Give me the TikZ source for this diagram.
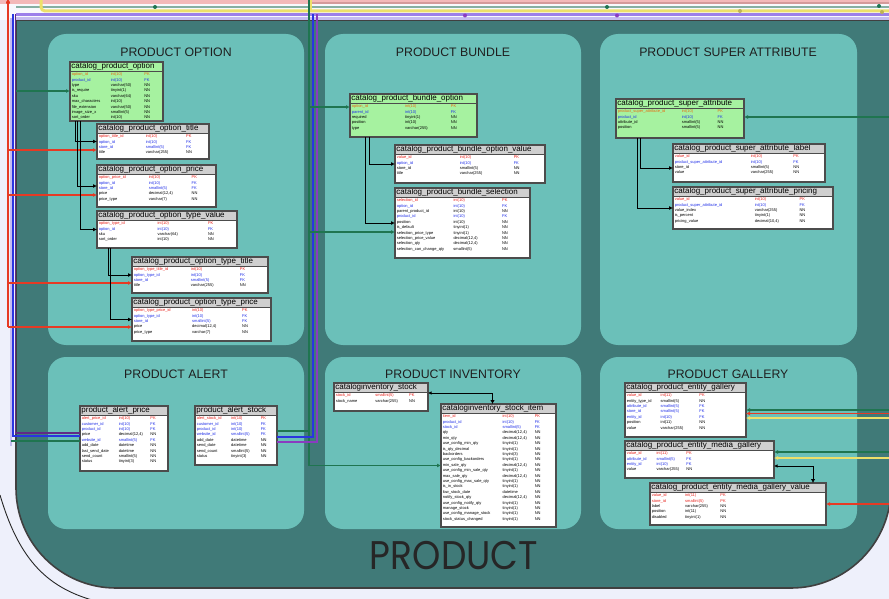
\documentclass[tikz,border=0pt]{standalone}
\usepackage{fontspec}
\setmainfont{Liberation Sans}
\newfontfamily\logofont{Poppins}
\usepackage{graphicx}
\usetikzlibrary{arrows.meta}

\definecolor{pagebg}{HTML}{EEF0FB}
\definecolor{outerteal}{HTML}{407A78}
\definecolor{innerteal}{HTML}{6BC0B9}
\definecolor{tblgreen}{HTML}{A6F2A0}
\definecolor{hdrgray}{HTML}{CFCFCF}
\definecolor{pkred}{HTML}{E8201A}
\definecolor{pkorange}{HTML}{E86A10}
\definecolor{fkblue}{HTML}{1F2EE8}
\definecolor{lnred}{HTML}{E63A24}
\definecolor{lngreen}{HTML}{1F7550}
\definecolor{lnblue}{HTML}{2A35E0}
\definecolor{lnpurple}{HTML}{8A3CC0}
\definecolor{lnyellow}{HTML}{EDE06A}
\definecolor{lnpink}{HTML}{F3B9B9}
\definecolor{lnrose}{HTML}{D49A9A}
\definecolor{lnsage}{HTML}{86AFA2}
\definecolor{lnviolet}{HTML}{9C80EA}
\definecolor{lnlav}{HTML}{C5BDF0}

\tikzset{
  tblbox/.style={anchor=north west, inner sep=0pt, outer sep=0pt},
  tblborder/.style={draw=black!70, line width=1.1pt},
  tbltitle/.style={anchor=west, inner sep=0pt, font=\fontsize{8}{9}\selectfont},
  tblrows/.style={anchor=north west, inner sep=0pt, font=\fontsize{4}{5.4}\selectfont},
  group/.style={fill=innerteal, rounded corners=18pt},
  grouptitle/.style={font=\fontsize{12.3}{13}\selectfont, text=black!88},
  bus/.style={line width=1.4pt},
  rel/.style={draw=black, line width=0.9pt, -{Latex[length=4pt,width=4pt]}},
  rel2/.style={draw=black, line width=0.9pt, {Latex[length=3.5pt,width=3.5pt]}-{Latex[length=4pt,width=4.5pt]}},
  redrel/.style={draw=lnred, line width=1.1pt, -{Latex[length=4pt,width=4pt]}},
  grnrel/.style={draw=lngreen, line width=1.1pt, -{Latex[length=4pt,width=4pt]}},
  yelrel/.style={draw=lnyellow, line width=1.6pt, -{Latex[length=4pt,width=4pt]}},
  marker/.style={circle, inner sep=0pt, minimum size=4pt},
}

% one row of a table: key, foreign key, plain column
\newcommand\rowk[3]{\textcolor{pkred}{#1}&\textcolor{pkred}{#2}&\textcolor{pkred}{#3}\\}
\newcommand\rowo[3]{\textcolor{pkorange}{#1}&\textcolor{pkorange}{#2}&\textcolor{pkorange}{#3}\\}
\newcommand\rowf[3]{\textcolor{fkblue}{#1}&\textcolor{fkblue}{#2}&\textcolor{fkblue}{#3}\\}
\newcommand\rown[3]{#1&#2&#3\\}

% column split of the next tables, in percent of the table width
\newcommand\setcols[3]{\def\cola{#1}\def\colb{#2}\def\colc{#3}}
\setcols{42}{36}{20}

% name, x, y, width, height, body fill, header fill, title, rows
\newcommand\dbtable[9]{%
  \node[tblbox, fill=#6, minimum width=#4pt, minimum height=#5pt] (#1) at (#2,#3) {};
  \begin{scope}
    \clip (#1.north west) rectangle (#1.south east);
    \fill[#7] (#1.north west) rectangle ([yshift=-9pt]#1.north east);
    \node[tbltitle] at ([shift={(1.2pt,-4.7pt)}]#1.north west) {#8};
    \node[tblrows] at ([shift={(1.6pt,-9.8pt)}]#1.north west) {%
      \begin{tabular}{@{}p{\dimexpr#4pt*\cola/100\relax}@{}p{\dimexpr#4pt*\colb/100\relax}@{}p{\dimexpr#4pt*\colc/100\relax}@{}}#9\end{tabular}};
  \end{scope}
  \draw[black!70, line width=0.6pt] ([yshift=-9pt]#1.north west) -- ([yshift=-9pt]#1.north east);
  \draw[tblborder] (#1.north west) rectangle (#1.south east);
}

\begin{document}
\begin{tikzpicture}[x=1pt,y=-1pt]
\useasboundingbox (0,0) rectangle (889,599);
\fill[pagebg] (0,0) rectangle (889,599);

% outer frame line
\draw[black!85, line width=0.9pt] (0,495) .. controls (18,556) and (44,586) .. (92,600);

% PRODUCT container
\path[fill=outerteal, draw=black!75, line width=1.6pt]
  (16,20) -- (891,20) -- (891,300)
  {[rounded corners=100pt] -- (891,588) -- (16,588) -- (16,300)} -- cycle;

% bus lines along the top
\fill[white!60!pagebg] (0,0) rectangle (889,20);
\fill[lnpink] (0,0) rectangle (889,3.6);
\draw[lnrose, line width=1.6pt] (310,3) -- (889,3);
\draw[lnsage, line width=2.2pt] (16,7) -- (889,7);
\draw[lnyellow, line width=3pt, rounded corners=4pt] (41,0) -- (41,11) -- (889,11);
\draw[lnviolet, line width=3pt] (16,14.8) -- (889,14.8);
\draw[lnlav, line width=2.4pt] (16,18.4) -- (889,18.4);

% groups
\fill[group] (48,34) rectangle (304,345);
\fill[group] (325,34) rectangle (581,345);
\fill[group] (600,34) rectangle (857,345);
\fill[group] (48,357) rectangle (304,529);
\fill[group] (325,357) rectangle (581,529);
\fill[group] (600,357) rectangle (857,529);

\node[grouptitle] (tOption) at (176,52) {PRODUCT OPTION};
\node[grouptitle] (tBundle) at (453,52) {PRODUCT BUNDLE};
\node[grouptitle] (tSuper) at (728,52) {PRODUCT SUPER ATTRIBUTE};
\node[grouptitle] (tAlert) at (176,374) {PRODUCT ALERT};
\node[grouptitle] (tInventory) at (453,374) {PRODUCT INVENTORY};
\node[grouptitle] (tGallery) at (728,374) {PRODUCT GALLERY};

% ---------- product option ----------
\dbtable{opt}{70}{62}{93}{59}{tblgreen}{tblgreen}{catalog\_product\_option}{%
\rowo{option\_id}{int(10)}{PK}
\rowf{product\_id}{int(10)}{FK}
\rown{type}{varchar(50)}{NN}
\rown{is\_require}{tinyint(1)}{NN}
\rown{sku}{varchar(64)}{NN}
\rown{max\_characters}{int(10)}{NN}
\rown{file\_extension}{varchar(50)}{NN}
\rown{image\_size\_x}{smallint(5)}{NN}
\rown{sort\_order}{int(10)}{NN}}

\dbtable{optTitle}{97}{124}{112}{35}{white}{hdrgray}{catalog\_product\_option\_title}{%
\rowk{option\_title\_id}{int(10)}{PK}
\rowf{option\_id}{int(10)}{FK}
\rowf{store\_id}{smallint(5)}{FK}
\rown{title}{varchar(255)}{NN}}

\dbtable{optPrice}{97}{165}{119}{42}{white}{hdrgray}{catalog\_product\_option\_price}{%
\rowk{option\_price\_id}{int(10)}{PK}
\rowf{option\_id}{int(10)}{FK}
\rowf{store\_id}{smallint(5)}{FK}
\rown{price}{decimal(12,4)}{NN}
\rown{price\_type}{varchar(7)}{NN}}

\dbtable{optTypeValue}{97}{211}{140}{37}{white}{hdrgray}{catalog\_product\_option\_type\_value}{%
\rowk{option\_type\_id}{int(10)}{PK}
\rowf{option\_id}{int(10)}{FK}
\rown{sku}{varchar(64)}{NN}
\rown{sort\_order}{int(10)}{NN}}

\dbtable{optTypeTitle}{132}{257}{136}{36}{white}{hdrgray}{catalog\_product\_option\_type\_title}{%
\rowk{option\_type\_title\_id}{int(10)}{PK}
\rowf{option\_type\_id}{int(10)}{FK}
\rowf{store\_id}{smallint(5)}{FK}
\rown{title}{varchar(255)}{NN}}

\dbtable{optTypePrice}{132}{298}{139}{43}{white}{hdrgray}{catalog\_product\_option\_type\_price}{%
\rowk{option\_type\_price\_id}{int(10)}{PK}
\rowf{option\_type\_id}{int(10)}{FK}
\rowf{store\_id}{smallint(5)}{FK}
\rown{price}{decimal(12,4)}{NN}
\rown{price\_type}{varchar(7)}{NN}}

% ---------- product bundle ----------
\dbtable{bndOpt}{350}{94}{127}{43}{tblgreen}{tblgreen}{catalog\_product\_bundle\_option}{%
\rowo{option\_id}{int(10)}{PK}
\rowf{parent\_id}{int(10)}{FK}
\rown{required}{tinyint(1)}{NN}
\rown{position}{int(10)}{NN}
\rown{type}{varchar(255)}{NN}}

\dbtable{bndValue}{395}{145}{150}{38}{white}{hdrgray}{catalog\_product\_bundle\_option\_value}{%
\rowk{value\_id}{int(10)}{PK}
\rowf{option\_id}{int(10)}{FK}
\rown{store\_id}{smallint(5)}{NN}
\rown{title}{varchar(255)}{NN}}

\dbtable{bndSel}{395}{188}{135}{70}{white}{hdrgray}{catalog\_product\_bundle\_selection}{%
\rowk{selection\_id}{int(10)}{PK}
\rowf{option\_id}{int(10)}{FK}
\rown{parent\_product\_id}{int(10)}{NN}
\rowf{product\_id}{int(10)}{FK}
\rown{position}{int(10)}{NN}
\rown{is\_default}{tinyint(1)}{NN}
\rown{selection\_price\_type}{tinyint(1)}{NN}
\rown{selection\_price\_value}{decimal(12,4)}{NN}
\rown{selection\_qty}{decimal(12,4)}{NN}
\rown{selection\_can\_change\_qty}{smallint(5)}{NN}}

% ---------- product super attribute ----------
\setcols{50}{28}{20}
\dbtable{supAttr}{616}{99}{128}{39}{tblgreen}{tblgreen}{catalog\_product\_super\_attribute}{%
\rowo{product\_super\_attribute\_id}{int(10)}{PK}
\rowf{product\_id}{int(10)}{FK}
\rown{attribute\_id}{smallint(5)}{NN}
\rown{position}{smallint(5)}{NN}}

\dbtable{supLabel}{673}{144}{152}{38}{white}{hdrgray}{catalog\_product\_super\_attribute\_label}{%
\rowk{value\_id}{int(10)}{PK}
\rowf{product\_super\_attribute\_id}{int(10)}{FK}
\rown{store\_id}{smallint(5)}{NN}
\rown{value}{varchar(255)}{NN}}

\dbtable{supPricing}{673}{187}{160}{42}{white}{hdrgray}{catalog\_product\_super\_attribute\_pricing}{%
\rowk{value\_id}{int(10)}{PK}
\rowf{product\_super\_attribute\_id}{int(10)}{FK}
\rown{value\_index}{varchar(255)}{NN}
\rown{is\_percent}{tinyint(1)}{NN}
\rown{pricing\_value}{decimal(10,4)}{NN}}

% ---------- product alert ----------
\setcols{42}{36}{20}
\dbtable{alertPrice}{80}{406}{88}{65}{white}{hdrgray}{product\_alert\_price}{%
\rowk{alert\_price\_id}{int(10)}{PK}
\rowf{customer\_id}{int(10)}{FK}
\rowf{product\_id}{int(10)}{FK}
\rown{price}{decimal(12,4)}{NN}
\rowf{website\_id}{smallint(5)}{FK}
\rown{add\_date}{datetime}{NN}
\rown{last\_send\_date}{datetime}{NN}
\rown{send\_count}{smallint(5)}{NN}
\rown{status}{tinyint(3)}{NN}}

\dbtable{alertStock}{195}{406}{82}{59}{white}{hdrgray}{product\_alert\_stock}{%
\rowk{alert\_stock\_id}{int(10)}{PK}
\rowf{customer\_id}{int(10)}{FK}
\rowf{product\_id}{int(10)}{FK}
\rowf{website\_id}{smallint(5)}{FK}
\rown{add\_date}{datetime}{NN}
\rown{send\_date}{datetime}{NN}
\rown{send\_count}{smallint(5)}{NN}
\rown{status}{tinyint(3)}{NN}}

% ---------- product inventory ----------
\dbtable{stock}{334}{383}{94}{28}{white}{hdrgray}{cataloginventory\_stock}{%
\rowk{stock\_id}{smallint(5)}{PK}
\rown{stock\_name}{varchar(255)}{NN}}

\setcols{52}{28}{18}
\dbtable{stockItem}{441}{404}{115}{123}{white}{hdrgray}{cataloginventory\_stock\_item}{%
\rowk{item\_id}{int(10)}{PK}
\rowf{product\_id}{int(10)}{FK}
\rowf{stock\_id}{smallint(5)}{FK}
\rown{qty}{decimal(12,4)}{NN}
\rown{min\_qty}{decimal(12,4)}{NN}
\rown{use\_config\_min\_qty}{tinyint(1)}{NN}
\rown{is\_qty\_decimal}{tinyint(1)}{NN}
\rown{backorders}{tinyint(3)}{NN}
\rown{use\_config\_backorders}{tinyint(1)}{NN}
\rown{min\_sale\_qty}{decimal(12,4)}{NN}
\rown{use\_config\_min\_sale\_qty}{tinyint(1)}{NN}
\rown{max\_sale\_qty}{decimal(12,4)}{NN}
\rown{use\_config\_max\_sale\_qty}{tinyint(1)}{NN}
\rown{is\_in\_stock}{tinyint(1)}{NN}
\rown{low\_stock\_date}{datetime}{NN}
\rown{notify\_stock\_qty}{decimal(12,4)}{NN}
\rown{use\_config\_notify\_qty}{tinyint(1)}{NN}
\rown{manage\_stock}{tinyint(1)}{NN}
\rown{use\_config\_manage\_stock}{tinyint(1)}{NN}
\rown{stock\_status\_changed}{tinyint(1)}{NN}}

% ---------- product gallery ----------
\setcols{28}{32}{20}
\dbtable{gal}{625}{383}{121}{54}{white}{hdrgray}{catalog\_product\_entity\_gallery}{%
\rowk{value\_id}{int(11)}{PK}
\rown{entity\_type\_id}{smallint(5)}{NN}
\rowf{attribute\_id}{smallint(5)}{FK}
\rowf{store\_id}{smallint(5)}{FK}
\rowf{entity\_id}{int(10)}{FK}
\rown{position}{int(11)}{NN}
\rown{value}{varchar(255)}{NN}}

\setcols{20}{20}{20}
\dbtable{mediaGal}{625}{441}{149}{37}{white}{hdrgray}{catalog\_product\_entity\_media\_gallery}{%
\rowk{value\_id}{int(11)}{PK}
\rowf{attribute\_id}{smallint(5)}{FK}
\rowf{entity\_id}{int(10)}{FK}
\rown{value}{varchar(255)}{NN}}

\setcols{19}{20}{20}
\dbtable{mediaVal}{650}{483}{176}{42}{white}{hdrgray}{catalog\_product\_entity\_media\_gallery\_value}{%
\rowk{value\_id}{int(11)}{PK}
\rowk{store\_id}{smallint(5)}{PK}
\rown{label}{varchar(255)}{NN}
\rown{position}{int(11)}{NN}
\rown{disabled}{tinyint(1)}{NN}}

% ---------- bus lines on the left ----------
\coordinate (busRed) at (8,0);
\coordinate (busLav) at (11,18);
\coordinate (busBlue) at (13,14.5);
\coordinate (busPurple) at (15.2,14.5);
\draw[lnlav, line width=2pt] (busLav) -- (11,446);
\draw[lnred, bus] (busRed) -- (8,327);
\draw[lnblue, bus] (busBlue) |- ([yshift=2.5pt]alertPrice.west);
\draw[lnpurple!70!black, bus] (busPurple) |- ([yshift=5.5pt]alertPrice.west);
\coordinate (grnAlert) at (11,441);
\draw[lngreen, bus] (grnAlert) -- (grnAlert -| alertPrice.west);

\coordinate (grnOpt) at (16,91);
\draw[grnrel] (grnOpt) -- (grnOpt -| opt.west);
\coordinate (redA) at (8,150);
\coordinate (redB) at (8,195);
\coordinate (redC) at (8,283);
\coordinate (redD) at (8,327);
\draw[redrel] (redA) -- (redA -| optTitle.west);
\draw[redrel] (redB) -- (redB -| optPrice.west);
\draw[redrel] (redC) -- (redC -| optTypeTitle.west);
\draw[redrel] (redD) -- (redD -| optTypePrice.west);

% ---------- bus lines in the middle ----------
\coordinate (midGreen) at (309,0);
\coordinate (midBlue) at (313,14.5);
\coordinate (midPurple) at (317,14.5);
\draw[lnyellow, line width=1.4pt] (311,0) -- (311,12);
\draw[lngreen, bus, -{Latex[length=4pt,width=4pt]}] (midGreen) |- (stockItem.west);
\draw[lnblue, bus] (midBlue) |- ([yshift=-1.5pt]alertStock.east);
\draw[lnpurple, bus] (midPurple) |- ([yshift=-6.5pt]alertStock.east);
\coordinate (gAlert) at (309,431);
\draw[lngreen, bus] (gAlert) -- (gAlert -| alertStock.east);
\coordinate (gBnd) at (309,107);
\coordinate (gSel) at (309,232);
\draw[grnrel] (gBnd) -- (gBnd -| bndOpt.west);
\draw[grnrel] (gSel) -- (gSel -| bndSel.west);

% ---------- bus lines on the right ----------
\coordinate (gSup) at (889,117);
\draw[grnrel] (gSup) -- (gSup -| supAttr.east);
\coordinate (gGal) at (889,410);
\coordinate (rGal) at (889,413.5);
\coordinate (yGal) at (889,418);
\draw[yelrel] (yGal) -- (yGal -| gal.east);
\draw[redrel] (rGal) -- (rGal -| gal.east);
\draw[grnrel] (gGal) -- (gGal -| gal.east);
\coordinate (gMed) at (889,452);
\coordinate (yMed) at (889,458);
\draw[yelrel] (yMed) -- (yMed -| mediaGal.east);
\draw[grnrel] (gMed) -- (gMed -| mediaGal.east);
\coordinate (rVal) at (889,504);
\draw[redrel] (rVal) -- (rVal -| mediaVal.east);

% ---------- relations inside the groups ----------
\draw[rel] ([xshift=5pt]opt.south west) |- (optTitle.west);
\draw[rel] ([xshift=7.5pt]opt.south west) |- (optPrice.west);
\draw[rel] ([xshift=10pt]opt.south west) |- (optTypeValue.west);
\draw[rel] ([xshift=11pt]optTypeValue.south west) |- (optTypeTitle.west);
\draw[rel] ([xshift=13.5pt]optTypeValue.south west) |- (optTypePrice.west);
\draw[rel] ([xshift=19pt]bndOpt.south west) |- (bndValue.west);
\draw[rel] ([xshift=15pt]bndOpt.south west) |- (bndSel.west);
\draw[rel] ([xshift=24pt]supAttr.south west) |- ([yshift=-5pt]supLabel.west);
\draw[rel] ([xshift=21pt]supAttr.south west) |- (supPricing.west);
\draw[rel2] ([yshift=4pt]stock.east) -| ([xshift=-6pt]stockItem.north);
\draw[rel2] ([yshift=-6.5pt]mediaGal.east) -| ([xshift=75pt]mediaVal.north);

% ---------- markers on the top bus ----------
\node[marker, fill=lnred] (mRed) at (8,2.5) {};
\node[marker, fill=lngreen] (mG1) at (155,7) {};
\node[marker, fill=lnpurple] (mP1) at (465,15.5) {};
\node[marker, fill=lngreen] (mG2) at (607,7) {};
\node[marker, fill=lnpurple] (mP2) at (617,15.5) {};
\node[marker, fill=lnyellow!80!black] (mY1) at (740,11) {};
\node[marker, fill=lngreen] (mG3) at (879,6) {};
\node[marker, fill=lnyellow!80!black] (mY2) at (882,12) {};

% container label
\node[font=\logofont\fontsize{40}{40}\selectfont, text=black!85, inner sep=0pt] (productLabel) at (454,556) {\scalebox{0.9}[1]{PRODUCT}};

\end{tikzpicture}
\end{document}
